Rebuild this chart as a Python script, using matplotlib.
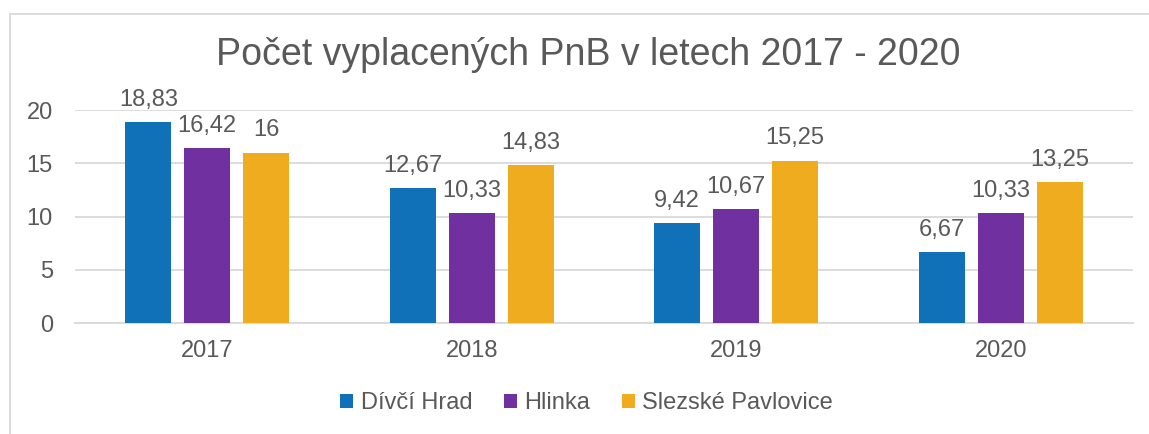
import numpy as np
import matplotlib.pyplot as plt
from matplotlib.patches import Rectangle

plt.rcParams['font.family'] = ['Liberation Sans', 'DejaVu Sans']

years = ['2017', '2018', '2019', '2020']
divci_hrad = [18.83, 12.67, 9.42, 6.67]
hlinka = [16.42, 10.33, 10.67, 10.33]
slezske = [16, 14.83, 15.25, 13.25]
series_names = ['Dívčí Hrad', 'Hlinka', 'Slezské Pavlovice']
colors = ['#1071B9', '#7030A0', '#F0AC1F']
txt = '#595959'
grid_c = '#D9D9D9'


def fmt(v):
    s = ('%.2f' % v).rstrip('0').rstrip('.')
    return s.replace('.', ',')


fig = plt.figure(figsize=(11.49, 4.34), dpi=100)
ax = fig.add_axes([75 / 1149, 1 - 323 / 434, (1133 - 75) / 1149, (323 - 110) / 434])

x = np.arange(len(years))
w = 0.174
step = 0.223
for i, (vals, name, c) in enumerate(zip([divci_hrad, hlinka, slezske], series_names, colors)):
    pos = x + (i - 1) * step
    bars = ax.bar(pos, vals, width=w, color=c, label=name, zorder=3)
    for b, v in zip(bars, vals):
        ax.annotate(fmt(v), (b.get_x() + b.get_width() / 2, v), xytext=(0, 8),
                    textcoords='offset points', ha='center', va='bottom',
                    fontsize=17, color=txt)

ax.set_xlim(-0.5, len(years) - 0.5)
ax.set_ylim(0, 20)
ax.set_yticks([0, 5, 10, 15, 20])
ax.set_xticks(x)
ax.set_xticklabels(years)
ax.tick_params(axis='both', length=0, labelsize=17, labelcolor=txt)
ax.tick_params(axis='x', pad=12)
ax.tick_params(axis='y', pad=16)
ax.grid(axis='y', color=grid_c, linewidth=1.3, zorder=0)
for s in ['top', 'right', 'left']:
    ax.spines[s].set_visible(False)
ax.spines['bottom'].set_color(grid_c)
ax.spines['bottom'].set_linewidth(1.3)

fig.text(588 / 1149, 1 - 55 / 434, 'Počet vyplacených PnB v letech 2017 - 2020',
         ha='center', va='center', fontsize=27, color=txt)

fig.legend(loc='center', bbox_to_anchor=(0.5105, 1 - 403 / 434), ncol=3, frameon=False,
           fontsize=17, labelcolor=txt, handlelength=0.55, handleheight=0.55,
           handletextpad=0.3, columnspacing=1.35)

fig.patches.append(Rectangle((10 / 1149, -0.1), 1.2, 1 - 14 / 434 + 0.1,
                             transform=fig.transFigure, fill=False,
                             edgecolor=grid_c, linewidth=1.3))

fig.savefig('out.png', dpi=100)
